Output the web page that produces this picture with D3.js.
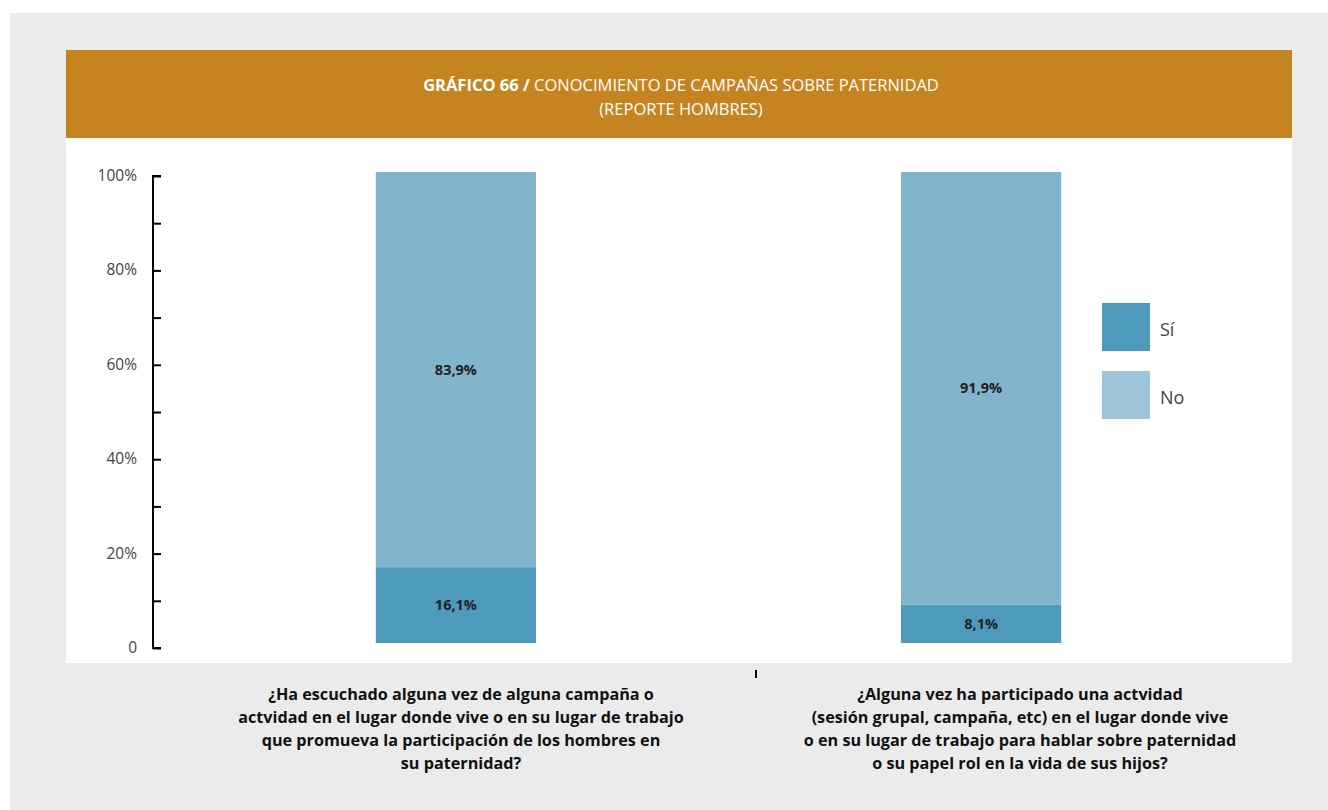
<!DOCTYPE html>
<html>
<head>
<meta charset="utf-8">
<script src="https://cdn.jsdelivr.net/npm/d3@7"></script>
<style>
    body { margin: 0; background: #fff; }
    svg { display: block; font-family: "Open Sans", sans-serif; }
</style>
</head>
<body>
<div id="chart"></div>
<script>
// Chart values
const categories = ["q1", "q2"];
const siValues = [16.1, 8.1];
const noValues = [83.9, 91.9];
const seriesNames = ["Sí", "No"];
const yTicks = [0, 20, 40, 60, 80, 100];
const questionLines = [
    ["¿Ha escuchado alguna vez de alguna campaña o",
     "actvidad en el lugar donde vive o en su lugar de trabajo",
     "que promueva la participación de los hombres en",
     "su paternidad?"],
    ["¿Alguna vez ha participado una actvidad",
     "(sesión grupal, campaña, etc) en el lugar donde vive",
     "o en su lugar de trabajo para hablar sobre paternidad",
     "o su papel rol en la vida de sus hijos?"]
];

const width = 1328;
const height = 810;

const svg = d3.select("#chart")
    .append("svg")
    .attr("width", width)
    .attr("height", height);

// Background panels
svg.append("rect")
    .attr("x", 10).attr("y", 13)
    .attr("width", width - 10).attr("height", height - 13)
    .attr("fill", "#ebebeb");

svg.append("rect")
    .attr("x", 66).attr("y", 138)
    .attr("width", 1226).attr("height", 525)
    .attr("fill", "#ffffff");

svg.append("rect")
    .attr("x", 66).attr("y", 50)
    .attr("width", 1226).attr("height", 88)
    .attr("fill", "#c58420");

// Title
const title = svg.append("text")
    .attr("x", 681).attr("y", 91)
    .attr("text-anchor", "middle")
    .attr("fill", "#fff")
    .style("font-size", "16.5px");
title.append("tspan").attr("font-weight", "bold").text("GRÁFICO 66 / ");
title.append("tspan").text("CONOCIMIENTO DE CAMPAÑAS SOBRE PATERNIDAD");

svg.append("text")
    .attr("x", 681).attr("y", 115)
    .attr("text-anchor", "middle")
    .attr("fill", "#fff")
    .style("font-size", "16.5px")
    .text("(REPORTE HOMBRES)");

// Scales
const y = d3.scaleLinear()
    .domain([0, 100])
    .range([648, 176]);

// bars sit slightly above the axis in the original
const yBar = d3.scaleLinear()
    .domain([0, 100])
    .range([643, 172]);

const x = d3.scaleBand()
    .domain(categories)
    .range([213, 1224])
    .paddingInner(0.695)
    .paddingOuter(0.31);

// Y axis with minor ticks
const axis = svg.append("g")
    .attr("transform", "translate(153,0)")
    .call(d3.axisRight(y)
        .tickValues(d3.range(0, 101, 10))
        .tickSize(8)
        .tickFormat(""));

axis.select(".domain")
    .attr("d", "M8," + y(100) + "H0V" + y(0) + "H8")
    .attr("stroke", "#000")
    .attr("stroke-width", 2);

axis.selectAll(".tick line")
    .attr("stroke", "#000")
    .attr("stroke-width", 2);

svg.selectAll(".ylabel")
    .data(yTicks)
    .enter()
    .append("text")
    .attr("class", "ylabel")
    .attr("x", 137)
    .attr("y", function(d) { return y(d) + 5; })
    .attr("text-anchor", "end")
    .attr("fill", "#444")
    .style("font-size", "15.5px")
    .text(function(d) { return d === 0 ? "0" : d + "%"; });

// Bars
const colors = { "Sí": "#4e9aba", "No": "#82b4cd" };
const legendColors = { "Sí": "#4e9aba", "No": "#9dc4d8" };

const barData = categories.map(function(c, i) {
    return [
        { cat: c, name: "Sí", y0: 0, y1: siValues[i], v: siValues[i] },
        { cat: c, name: "No", y0: siValues[i], y1: siValues[i] + noValues[i], v: noValues[i] }
    ];
}).flat();

svg.selectAll(".bar")
    .data(barData)
    .enter()
    .append("rect")
    .attr("class", "bar")
    .attr("x", function(d) { return x(d.cat); })
    .attr("width", x.bandwidth())
    .attr("y", function(d) { return yBar(d.y1); })
    .attr("height", function(d) { return yBar(d.y0) - yBar(d.y1); })
    .attr("fill", function(d) { return colors[d.name]; });

svg.selectAll(".barlabel")
    .data(barData)
    .enter()
    .append("text")
    .attr("class", "barlabel")
    .attr("x", function(d) { return x(d.cat) + x.bandwidth() / 2; })
    .attr("y", function(d) { return (yBar(d.y0) + yBar(d.y1)) / 2 + 5; })
    .attr("text-anchor", "middle")
    .attr("font-weight", "bold")
    .attr("fill", "#222")
    .style("font-size", "14.5px")
    .text(function(d) { return d3.format(".1f")(d.v).replace(".", ",") + "%"; });

// Legend
const legend = svg.selectAll(".legend")
    .data(seriesNames)
    .enter()
    .append("g")
    .attr("transform", function(d, i) { return "translate(1102," + (303 + i * 68) + ")"; });

legend.append("rect")
    .attr("width", 48).attr("height", 48)
    .attr("fill", function(d) { return legendColors[d]; });

legend.append("text")
    .attr("x", 58).attr("y", 33)
    .attr("fill", "#444")
    .style("font-size", "18px")
    .text(function(d) { return d; });

// small divider tick under the chart
svg.append("line")
    .attr("x1", 756).attr("x2", 756)
    .attr("y1", 670).attr("y2", 678)
    .attr("stroke", "#000")
    .attr("stroke-width", 2);

// Question labels
const qCenters = [461, 1020];

questionLines.forEach(function(lines, i) {
    svg.append("text")
        .attr("text-anchor", "middle")
        .attr("font-weight", "bold")
        .attr("fill", "#111")
        .style("font-size", "16.2px")
        .selectAll("tspan")
        .data(lines)
        .enter()
        .append("tspan")
        .attr("x", qCenters[i])
        .attr("y", function(d, j) { return 700 + j * 23; })
        .text(function(d) { return d; });
});
</script>
</body>
</html>
